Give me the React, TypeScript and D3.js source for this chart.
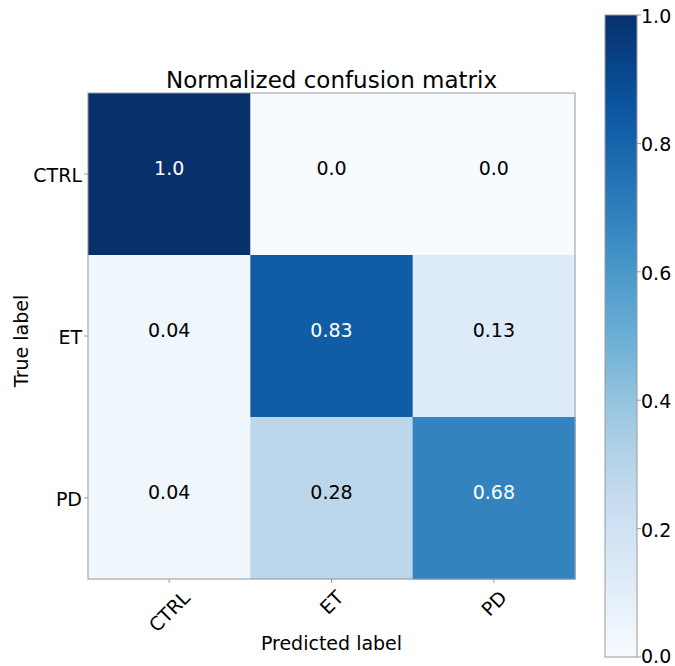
import { useEffect, useRef } from 'react';
import * as d3 from 'd3';

const classes = ['CTRL', 'ET', 'PD'];
const matrix = [
  [1.0, 0.0, 0.0],
  [0.04, 0.83, 0.13],
  [0.04, 0.28, 0.68],
];
const cellLabels = [
  ['1.0', '0.0', '0.0'],
  ['0.04', '0.83', '0.13'],
  ['0.04', '0.28', '0.68'],
];
const colorbarTicks = [0, 0.2, 0.4, 0.6, 0.8, 1.0];

const W = 675;
const H = 666;
const FONT = 'DejaVu Sans, sans-serif';

export default function App() {
  const ref = useRef<SVGSVGElement>(null);

  useEffect(() => {
    if (!ref.current) return;
    const svg = d3.select(ref.current);
    svg.selectAll('*').remove();

    // matplotlib Blues = linear segments through the 9 ColorBrewer colours
    const blues = d3.schemeBlues[9];
    const color = d3
      .scaleLinear<string>()
      .domain(blues.map((_, i) => i / 8))
      .range(blues as string[])
      .interpolate(d3.interpolateRgb);

    const plot = { left: 88, top: 93, right: 575, bottom: 579 };
    const x = d3.scaleBand().domain(classes).range([plot.left, plot.right]);
    const y = d3.scaleBand().domain(classes).range([plot.top, plot.bottom]);

    const cells = matrix.flatMap((row, i) =>
      row.map((v, j) => ({ v, i, j, label: cellLabels[i][j] })),
    );

    svg
      .append('g')
      .selectAll('rect')
      .data(cells)
      .join('rect')
      .attr('x', (d) => x(classes[d.j])!)
      .attr('y', (d) => y(classes[d.i])!)
      .attr('width', x.bandwidth() + 0.5)
      .attr('height', y.bandwidth() + 0.5)
      .attr('fill', (d) => color(d.v));

    const maxV = d3.max(cells, (d) => d.v) ?? 1;
    svg
      .append('g')
      .selectAll('text')
      .data(cells)
      .join('text')
      .attr('x', (d) => x(classes[d.j])! + x.bandwidth() / 2)
      .attr('y', (d) => y(classes[d.i])! + y.bandwidth() / 2 - 6)
      .attr('text-anchor', 'middle')
      .attr('dominant-baseline', 'central')
      .attr('font-family', FONT)
      .attr('font-size', 19)
      .attr('fill', (d) => (d.v > maxV / 2 ? '#ffffff' : '#000000'))
      .text((d) => d.label);

    svg
      .append('rect')
      .attr('x', plot.left)
      .attr('y', plot.top)
      .attr('width', plot.right - plot.left)
      .attr('height', plot.bottom - plot.top)
      .attr('fill', 'none')
      .attr('stroke', '#999')
      .attr('stroke-width', 1);

    // y axis ticks + labels
    const yAxis = svg.append('g');
    classes.forEach((c) => {
      const cy = y(c)! + y.bandwidth() / 2;
      yAxis.append('line').attr('x1', plot.left - 4).attr('x2', plot.left).attr('y1', cy).attr('y2', cy).attr('stroke', '#999');
      yAxis
        .append('text')
        .attr('x', plot.left - 6)
        .attr('y', cy + 1)
        .attr('text-anchor', 'end')
        .attr('dominant-baseline', 'central')
        .attr('font-family', FONT)
        .attr('font-size', 19)
        .text(c);
    });

    // x axis ticks + labels rotated 45°, centred under the tick (ha=center, va=top)
    const xAxis = svg.append('g');
    classes.forEach((c) => {
      const cx = x(c)! + x.bandwidth() / 2;
      xAxis.append('line').attr('x1', cx).attr('x2', cx).attr('y1', plot.bottom).attr('y2', plot.bottom + 4).attr('stroke', '#999');
      const t = xAxis
        .append('text')
        .attr('text-anchor', 'middle')
        .attr('dominant-baseline', 'central')
        .attr('font-family', FONT)
        .attr('font-size', 19)
        .text(c);
      const w = (t.node() as SVGTextElement).getComputedTextLength();
      const half = (w + 14) / (2 * Math.SQRT2);
      t.attr('transform', `translate(${cx},${plot.bottom + 10 + half}) rotate(-45)`);
    });

    svg
      .append('text')
      .attr('x', (plot.left + plot.right) / 2)
      .attr('y', 88)
      .attr('text-anchor', 'middle')
      .attr('font-family', FONT)
      .attr('font-size', 23)
      .text('Normalized confusion matrix');

    svg
      .append('text')
      .attr('x', (plot.left + plot.right) / 2)
      .attr('y', 650)
      .attr('text-anchor', 'middle')
      .attr('font-family', FONT)
      .attr('font-size', 19)
      .text('Predicted label');

    svg
      .append('text')
      .attr('transform', `translate(28,341) rotate(-90)`)
      .attr('text-anchor', 'middle')
      .attr('font-family', FONT)
      .attr('font-size', 19)
      .text('True label');

    // colorbar
    const cb = { left: 605, right: 637, top: 15, bottom: 657 };
    const cbScale = d3.scaleLinear().domain([0, 1]).range([cb.bottom, cb.top]);
    const grad = svg
      .append('defs')
      .append('linearGradient')
      .attr('id', 'cbgrad')
      .attr('x1', 0)
      .attr('y1', 1)
      .attr('x2', 0)
      .attr('y2', 0);
    d3.range(0, 1.0001, 0.05).forEach((t) => {
      grad.append('stop').attr('offset', t).attr('stop-color', color(t));
    });
    svg
      .append('rect')
      .attr('x', cb.left)
      .attr('y', cb.top)
      .attr('width', cb.right - cb.left)
      .attr('height', cb.bottom - cb.top)
      .attr('fill', 'url(#cbgrad)')
      .attr('stroke', '#999');

    const cbAxis = svg.append('g');
    colorbarTicks.forEach((t) => {
      const ty = cbScale(t);
      cbAxis.append('line').attr('x1', cb.right).attr('x2', cb.right + 4).attr('y1', ty).attr('y2', ty).attr('stroke', '#999');
      cbAxis
        .append('text')
        .attr('x', cb.right + 4)
        .attr('y', t === 0 ? ty - 1 : ty + 1)
        .attr('dominant-baseline', 'central')
        .attr('font-family', FONT)
        .attr('font-size', 19)
        .text(t.toFixed(1));
    });
  }, []);

  return (
    <svg
      ref={ref}
      width={W}
      height={H}
      style={{ position: 'absolute', left: 0, top: 0, background: '#fff' }}
    />
  );
}
